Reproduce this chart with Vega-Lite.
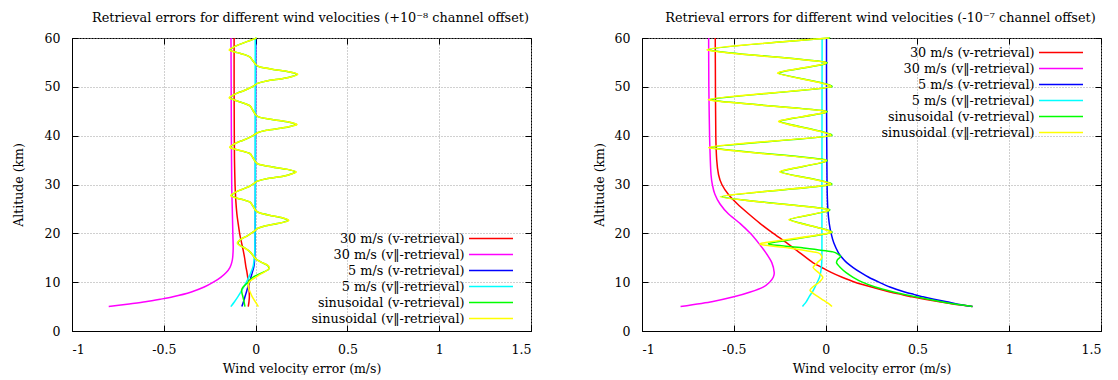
{
  "$schema": "https://vega.github.io/schema/vega-lite/v6.json",
  "background": "white",
  "padding": {"left": 12, "top": 11, "right": 5, "bottom": 0},
  "config": {
    "font": "DejaVu Serif",
    "view": {"stroke": "#000", "strokeWidth": 1},
    "axis": {
      "labelFont": "DejaVu Serif", "labelFontSize": 12.5, "labelColor": "#000",
      "titleFont": "DejaVu Serif", "titleFontSize": 12.5, "titleFontWeight": "normal", "titleColor": "#000",
      "gridColor": "#a0a0a0", "gridDash": [1, 2], "gridWidth": 1,
      "tickColor": "#000", "tickSize": -6, "tickWidth": 1,
      "domainColor": "#000", "domainWidth": 1
    },
    "axisX": {"labelPadding": 18.5},
    "axisY": {"labelPadding": 18},
    "title": {"font": "DejaVu Serif", "fontSize": 12.85, "fontWeight": "normal", "color": "#000", "offset": 7, "dx": 9},
    "legend": {
      "title": null, "orient": "none", "symbolType": "M-4,0H4", "symbolSize": 121, "symbolStrokeWidth": 1.5,
      "symbolOffset": 15.5, "labelAlign": "right", "labelOffset": -33, "labelFont": "DejaVu Serif",
      "labelFontSize": 12.8, "labelColor": "#000", "labelLimit": 400, "rowPadding": 2, "padding": 0
    }
  },
  "datasets": {
    "left": [
      {"series": "30 m/s (v-retrieval)", "alt": 5, "err": -0.04},
      {"series": "30 m/s (v-retrieval)", "alt": 6, "err": -0.036},
      {"series": "30 m/s (v-retrieval)", "alt": 7, "err": -0.034},
      {"series": "30 m/s (v-retrieval)", "alt": 8, "err": -0.035},
      {"series": "30 m/s (v-retrieval)", "alt": 9, "err": -0.037},
      {"series": "30 m/s (v-retrieval)", "alt": 10.5, "err": -0.041},
      {"series": "30 m/s (v-retrieval)", "alt": 12, "err": -0.047},
      {"series": "30 m/s (v-retrieval)", "alt": 13.2, "err": -0.053},
      {"series": "30 m/s (v-retrieval)", "alt": 15, "err": -0.06},
      {"series": "30 m/s (v-retrieval)", "alt": 16.6, "err": -0.068},
      {"series": "30 m/s (v-retrieval)", "alt": 18, "err": -0.076},
      {"series": "30 m/s (v-retrieval)", "alt": 20, "err": -0.087},
      {"series": "30 m/s (v-retrieval)", "alt": 22, "err": -0.095},
      {"series": "30 m/s (v-retrieval)", "alt": 24, "err": -0.102},
      {"series": "30 m/s (v-retrieval)", "alt": 26.8, "err": -0.108},
      {"series": "30 m/s (v-retrieval)", "alt": 30, "err": -0.112},
      {"series": "30 m/s (v-retrieval)", "alt": 35, "err": -0.115},
      {"series": "30 m/s (v-retrieval)", "alt": 40, "err": -0.116},
      {"series": "30 m/s (v-retrieval)", "alt": 50, "err": -0.117},
      {"series": "30 m/s (v-retrieval)", "alt": 60, "err": -0.117},
      {"series": "30 m/s (v‖-retrieval)", "alt": 5, "err": -0.8},
      {"series": "30 m/s (v‖-retrieval)", "alt": 5.5, "err": -0.7},
      {"series": "30 m/s (v‖-retrieval)", "alt": 6, "err": -0.6},
      {"series": "30 m/s (v‖-retrieval)", "alt": 6.5, "err": -0.52},
      {"series": "30 m/s (v‖-retrieval)", "alt": 7, "err": -0.45},
      {"series": "30 m/s (v‖-retrieval)", "alt": 8, "err": -0.35},
      {"series": "30 m/s (v‖-retrieval)", "alt": 9, "err": -0.28},
      {"series": "30 m/s (v‖-retrieval)", "alt": 10, "err": -0.23},
      {"series": "30 m/s (v‖-retrieval)", "alt": 11, "err": -0.19},
      {"series": "30 m/s (v‖-retrieval)", "alt": 12, "err": -0.16},
      {"series": "30 m/s (v‖-retrieval)", "alt": 13, "err": -0.14},
      {"series": "30 m/s (v‖-retrieval)", "alt": 14, "err": -0.13},
      {"series": "30 m/s (v‖-retrieval)", "alt": 15, "err": -0.125},
      {"series": "30 m/s (v‖-retrieval)", "alt": 17, "err": -0.122},
      {"series": "30 m/s (v‖-retrieval)", "alt": 20, "err": -0.124},
      {"series": "30 m/s (v‖-retrieval)", "alt": 25, "err": -0.127},
      {"series": "30 m/s (v‖-retrieval)", "alt": 30, "err": -0.13},
      {"series": "30 m/s (v‖-retrieval)", "alt": 40, "err": -0.132},
      {"series": "30 m/s (v‖-retrieval)", "alt": 50, "err": -0.133},
      {"series": "30 m/s (v‖-retrieval)", "alt": 60, "err": -0.134},
      {"series": "5 m/s (v-retrieval)", "alt": 5, "err": -0.075},
      {"series": "5 m/s (v-retrieval)", "alt": 6, "err": -0.066},
      {"series": "5 m/s (v-retrieval)", "alt": 7, "err": -0.058},
      {"series": "5 m/s (v-retrieval)", "alt": 8, "err": -0.05},
      {"series": "5 m/s (v-retrieval)", "alt": 9, "err": -0.042},
      {"series": "5 m/s (v-retrieval)", "alt": 10, "err": -0.033},
      {"series": "5 m/s (v-retrieval)", "alt": 12, "err": -0.018},
      {"series": "5 m/s (v-retrieval)", "alt": 13.5, "err": -0.008},
      {"series": "5 m/s (v-retrieval)", "alt": 16, "err": -0.004},
      {"series": "5 m/s (v-retrieval)", "alt": 20, "err": -0.002},
      {"series": "5 m/s (v-retrieval)", "alt": 30, "err": -0.001},
      {"series": "5 m/s (v-retrieval)", "alt": 45, "err": 0.0},
      {"series": "5 m/s (v-retrieval)", "alt": 60, "err": 0.001},
      {"series": "5 m/s (v‖-retrieval)", "alt": 5, "err": -0.135},
      {"series": "5 m/s (v‖-retrieval)", "alt": 6, "err": -0.115},
      {"series": "5 m/s (v‖-retrieval)", "alt": 7, "err": -0.097},
      {"series": "5 m/s (v‖-retrieval)", "alt": 8, "err": -0.08},
      {"series": "5 m/s (v‖-retrieval)", "alt": 9, "err": -0.065},
      {"series": "5 m/s (v‖-retrieval)", "alt": 10, "err": -0.05},
      {"series": "5 m/s (v‖-retrieval)", "alt": 12, "err": -0.025},
      {"series": "5 m/s (v‖-retrieval)", "alt": 13.5, "err": -0.012},
      {"series": "5 m/s (v‖-retrieval)", "alt": 16, "err": -0.005},
      {"series": "5 m/s (v‖-retrieval)", "alt": 20, "err": -0.003},
      {"series": "5 m/s (v‖-retrieval)", "alt": 30, "err": -0.002},
      {"series": "5 m/s (v‖-retrieval)", "alt": 60, "err": -0.002},
      {"series": "sinusoidal (v-retrieval)", "alt": 5.0, "err": -0.058},
      {"series": "sinusoidal (v-retrieval)", "alt": 6.0, "err": -0.063},
      {"series": "sinusoidal (v-retrieval)", "alt": 7.0, "err": -0.069},
      {"series": "sinusoidal (v-retrieval)", "alt": 7.7, "err": -0.074},
      {"series": "sinusoidal (v-retrieval)", "alt": 8.4, "err": -0.076},
      {"series": "sinusoidal (v-retrieval)", "alt": 9.0, "err": -0.068},
      {"series": "sinusoidal (v-retrieval)", "alt": 9.5, "err": -0.055},
      {"series": "sinusoidal (v-retrieval)", "alt": 10.0, "err": -0.04},
      {"series": "sinusoidal (v-retrieval)", "alt": 10.5, "err": -0.03},
      {"series": "sinusoidal (v-retrieval)", "alt": 11.0, "err": -0.015},
      {"series": "sinusoidal (v-retrieval)", "alt": 11.5, "err": 0.01},
      {"series": "sinusoidal (v-retrieval)", "alt": 12.0, "err": 0.04},
      {"series": "sinusoidal (v-retrieval)", "alt": 12.6, "err": 0.07},
      {"series": "sinusoidal (v-retrieval)", "alt": 13.0, "err": 0.072},
      {"series": "sinusoidal (v-retrieval)", "alt": 13.5, "err": 0.063},
      {"series": "sinusoidal (v-retrieval)", "alt": 14.0, "err": 0.035},
      {"series": "sinusoidal (v-retrieval)", "alt": 14.5, "err": 0.01},
      {"series": "sinusoidal (v-retrieval)", "alt": 15.0, "err": -0.005},
      {"series": "sinusoidal (v-retrieval)", "alt": 15.5, "err": -0.015},
      {"series": "sinusoidal (v-retrieval)", "alt": 16.0, "err": -0.025},
      {"series": "sinusoidal (v-retrieval)", "alt": 16.5, "err": -0.04},
      {"series": "sinusoidal (v-retrieval)", "alt": 17.0, "err": -0.06},
      {"series": "sinusoidal (v-retrieval)", "alt": 17.5, "err": -0.083},
      {"series": "sinusoidal (v-retrieval)", "alt": 18.0, "err": -0.097},
      {"series": "sinusoidal (v-retrieval)", "alt": 18.5, "err": -0.088},
      {"series": "sinusoidal (v-retrieval)", "alt": 19.0, "err": -0.07},
      {"series": "sinusoidal (v-retrieval)", "alt": 19.5, "err": -0.045},
      {"series": "sinusoidal (v-retrieval)", "alt": 20.0, "err": -0.025},
      {"series": "sinusoidal (v-retrieval)", "alt": 20.5, "err": -0.005},
      {"series": "sinusoidal (v-retrieval)", "alt": 21.0, "err": 0.01},
      {"series": "sinusoidal (v-retrieval)", "alt": 21.5, "err": 0.05},
      {"series": "sinusoidal (v-retrieval)", "alt": 22.0, "err": 0.12},
      {"series": "sinusoidal (v-retrieval)", "alt": 22.4, "err": 0.162},
      {"series": "sinusoidal (v-retrieval)", "alt": 22.7, "err": 0.177},
      {"series": "sinusoidal (v-retrieval)", "alt": 23.2, "err": 0.143},
      {"series": "sinusoidal (v-retrieval)", "alt": 23.7, "err": 0.075},
      {"series": "sinusoidal (v-retrieval)", "alt": 24.2, "err": 0.02},
      {"series": "sinusoidal (v-retrieval)", "alt": 24.7, "err": 0.0},
      {"series": "sinusoidal (v-retrieval)", "alt": 25.3, "err": -0.01},
      {"series": "sinusoidal (v-retrieval)", "alt": 25.9, "err": -0.02},
      {"series": "sinusoidal (v-retrieval)", "alt": 26.4, "err": -0.03},
      {"series": "sinusoidal (v-retrieval)", "alt": 26.8, "err": -0.06},
      {"series": "sinusoidal (v-retrieval)", "alt": 27.2, "err": -0.1},
      {"series": "sinusoidal (v-retrieval)", "alt": 27.7, "err": -0.132},
      {"series": "sinusoidal (v-retrieval)", "alt": 28.2, "err": -0.118},
      {"series": "sinusoidal (v-retrieval)", "alt": 28.7, "err": -0.095},
      {"series": "sinusoidal (v-retrieval)", "alt": 29.2, "err": -0.06},
      {"series": "sinusoidal (v-retrieval)", "alt": 29.7, "err": -0.03},
      {"series": "sinusoidal (v-retrieval)", "alt": 30.2, "err": -0.01},
      {"series": "sinusoidal (v-retrieval)", "alt": 30.7, "err": 0.01},
      {"series": "sinusoidal (v-retrieval)", "alt": 31.2, "err": 0.06},
      {"series": "sinusoidal (v-retrieval)", "alt": 31.7, "err": 0.15},
      {"series": "sinusoidal (v-retrieval)", "alt": 32.2, "err": 0.198},
      {"series": "sinusoidal (v-retrieval)", "alt": 32.6, "err": 0.217},
      {"series": "sinusoidal (v-retrieval)", "alt": 33.1, "err": 0.173},
      {"series": "sinusoidal (v-retrieval)", "alt": 33.6, "err": 0.09},
      {"series": "sinusoidal (v-retrieval)", "alt": 34.1, "err": 0.02},
      {"series": "sinusoidal (v-retrieval)", "alt": 34.6, "err": 0.0},
      {"series": "sinusoidal (v-retrieval)", "alt": 35.2, "err": -0.01},
      {"series": "sinusoidal (v-retrieval)", "alt": 35.8, "err": -0.02},
      {"series": "sinusoidal (v-retrieval)", "alt": 36.3, "err": -0.03},
      {"series": "sinusoidal (v-retrieval)", "alt": 36.7, "err": -0.06},
      {"series": "sinusoidal (v-retrieval)", "alt": 37.1, "err": -0.1},
      {"series": "sinusoidal (v-retrieval)", "alt": 37.6, "err": -0.137},
      {"series": "sinusoidal (v-retrieval)", "alt": 38.1, "err": -0.123},
      {"series": "sinusoidal (v-retrieval)", "alt": 38.6, "err": -0.1},
      {"series": "sinusoidal (v-retrieval)", "alt": 39.1, "err": -0.065},
      {"series": "sinusoidal (v-retrieval)", "alt": 39.6, "err": -0.035},
      {"series": "sinusoidal (v-retrieval)", "alt": 40.1, "err": -0.01},
      {"series": "sinusoidal (v-retrieval)", "alt": 40.6, "err": 0.01},
      {"series": "sinusoidal (v-retrieval)", "alt": 41.1, "err": 0.06},
      {"series": "sinusoidal (v-retrieval)", "alt": 41.6, "err": 0.15},
      {"series": "sinusoidal (v-retrieval)", "alt": 42.0, "err": 0.198},
      {"series": "sinusoidal (v-retrieval)", "alt": 42.3, "err": 0.222},
      {"series": "sinusoidal (v-retrieval)", "alt": 42.8, "err": 0.178},
      {"series": "sinusoidal (v-retrieval)", "alt": 43.3, "err": 0.09},
      {"series": "sinusoidal (v-retrieval)", "alt": 43.8, "err": 0.02},
      {"series": "sinusoidal (v-retrieval)", "alt": 44.3, "err": 0.0},
      {"series": "sinusoidal (v-retrieval)", "alt": 44.9, "err": -0.01},
      {"series": "sinusoidal (v-retrieval)", "alt": 45.5, "err": -0.02},
      {"series": "sinusoidal (v-retrieval)", "alt": 46.1, "err": -0.03},
      {"series": "sinusoidal (v-retrieval)", "alt": 46.6, "err": -0.06},
      {"series": "sinusoidal (v-retrieval)", "alt": 47.1, "err": -0.1},
      {"series": "sinusoidal (v-retrieval)", "alt": 47.7, "err": -0.14},
      {"series": "sinusoidal (v-retrieval)", "alt": 48.2, "err": -0.126},
      {"series": "sinusoidal (v-retrieval)", "alt": 48.7, "err": -0.1},
      {"series": "sinusoidal (v-retrieval)", "alt": 49.2, "err": -0.065},
      {"series": "sinusoidal (v-retrieval)", "alt": 49.7, "err": -0.035},
      {"series": "sinusoidal (v-retrieval)", "alt": 50.2, "err": -0.01},
      {"series": "sinusoidal (v-retrieval)", "alt": 50.7, "err": 0.01},
      {"series": "sinusoidal (v-retrieval)", "alt": 51.2, "err": 0.06},
      {"series": "sinusoidal (v-retrieval)", "alt": 51.7, "err": 0.15},
      {"series": "sinusoidal (v-retrieval)", "alt": 52.1, "err": 0.198},
      {"series": "sinusoidal (v-retrieval)", "alt": 52.6, "err": 0.226},
      {"series": "sinusoidal (v-retrieval)", "alt": 53.1, "err": 0.178},
      {"series": "sinusoidal (v-retrieval)", "alt": 53.6, "err": 0.09},
      {"series": "sinusoidal (v-retrieval)", "alt": 54.1, "err": 0.02},
      {"series": "sinusoidal (v-retrieval)", "alt": 54.6, "err": 0.0},
      {"series": "sinusoidal (v-retrieval)", "alt": 55.1, "err": -0.01},
      {"series": "sinusoidal (v-retrieval)", "alt": 55.6, "err": -0.02},
      {"series": "sinusoidal (v-retrieval)", "alt": 56.1, "err": -0.03},
      {"series": "sinusoidal (v-retrieval)", "alt": 56.6, "err": -0.06},
      {"series": "sinusoidal (v-retrieval)", "alt": 57.0, "err": -0.1},
      {"series": "sinusoidal (v-retrieval)", "alt": 57.5, "err": -0.14},
      {"series": "sinusoidal (v-retrieval)", "alt": 58.0, "err": -0.126},
      {"series": "sinusoidal (v-retrieval)", "alt": 58.5, "err": -0.1},
      {"series": "sinusoidal (v-retrieval)", "alt": 59.0, "err": -0.065},
      {"series": "sinusoidal (v-retrieval)", "alt": 59.5, "err": -0.03},
      {"series": "sinusoidal (v-retrieval)", "alt": 60.0, "err": 0.005},
      {"series": "sinusoidal (v‖-retrieval)", "alt": 5.0, "err": 0.015},
      {"series": "sinusoidal (v‖-retrieval)", "alt": 5.5, "err": 0.007},
      {"series": "sinusoidal (v‖-retrieval)", "alt": 6.0, "err": -0.002},
      {"series": "sinusoidal (v‖-retrieval)", "alt": 7.0, "err": -0.018},
      {"series": "sinusoidal (v‖-retrieval)", "alt": 8.0, "err": -0.03},
      {"series": "sinusoidal (v‖-retrieval)", "alt": 9.0, "err": -0.04},
      {"series": "sinusoidal (v‖-retrieval)", "alt": 10.0, "err": -0.035},
      {"series": "sinusoidal (v‖-retrieval)", "alt": 10.5, "err": -0.02},
      {"series": "sinusoidal (v‖-retrieval)", "alt": 11.0, "err": 0.0},
      {"series": "sinusoidal (v‖-retrieval)", "alt": 11.5, "err": 0.02},
      {"series": "sinusoidal (v‖-retrieval)", "alt": 12.0, "err": 0.045},
      {"series": "sinusoidal (v‖-retrieval)", "alt": 12.5, "err": 0.065},
      {"series": "sinusoidal (v‖-retrieval)", "alt": 13.0, "err": 0.075},
      {"series": "sinusoidal (v‖-retrieval)", "alt": 13.5, "err": 0.065},
      {"series": "sinusoidal (v‖-retrieval)", "alt": 14.0, "err": 0.035},
      {"series": "sinusoidal (v‖-retrieval)", "alt": 14.5, "err": 0.01},
      {"series": "sinusoidal (v‖-retrieval)", "alt": 15.0, "err": -0.005},
      {"series": "sinusoidal (v‖-retrieval)", "alt": 15.5, "err": -0.015},
      {"series": "sinusoidal (v‖-retrieval)", "alt": 16.0, "err": -0.025},
      {"series": "sinusoidal (v‖-retrieval)", "alt": 16.5, "err": -0.04},
      {"series": "sinusoidal (v‖-retrieval)", "alt": 17.0, "err": -0.06},
      {"series": "sinusoidal (v‖-retrieval)", "alt": 17.5, "err": -0.085},
      {"series": "sinusoidal (v‖-retrieval)", "alt": 18.0, "err": -0.1},
      {"series": "sinusoidal (v‖-retrieval)", "alt": 18.5, "err": -0.09},
      {"series": "sinusoidal (v‖-retrieval)", "alt": 19.0, "err": -0.07},
      {"series": "sinusoidal (v‖-retrieval)", "alt": 19.5, "err": -0.045},
      {"series": "sinusoidal (v‖-retrieval)", "alt": 20.0, "err": -0.025},
      {"series": "sinusoidal (v‖-retrieval)", "alt": 20.5, "err": -0.005},
      {"series": "sinusoidal (v‖-retrieval)", "alt": 21.0, "err": 0.01},
      {"series": "sinusoidal (v‖-retrieval)", "alt": 21.5, "err": 0.05},
      {"series": "sinusoidal (v‖-retrieval)", "alt": 22.0, "err": 0.12},
      {"series": "sinusoidal (v‖-retrieval)", "alt": 22.4, "err": 0.165},
      {"series": "sinusoidal (v‖-retrieval)", "alt": 22.7, "err": 0.18},
      {"series": "sinusoidal (v‖-retrieval)", "alt": 23.2, "err": 0.145},
      {"series": "sinusoidal (v‖-retrieval)", "alt": 23.7, "err": 0.075},
      {"series": "sinusoidal (v‖-retrieval)", "alt": 24.2, "err": 0.02},
      {"series": "sinusoidal (v‖-retrieval)", "alt": 24.7, "err": 0.0},
      {"series": "sinusoidal (v‖-retrieval)", "alt": 25.3, "err": -0.01},
      {"series": "sinusoidal (v‖-retrieval)", "alt": 25.9, "err": -0.02},
      {"series": "sinusoidal (v‖-retrieval)", "alt": 26.4, "err": -0.03},
      {"series": "sinusoidal (v‖-retrieval)", "alt": 26.8, "err": -0.06},
      {"series": "sinusoidal (v‖-retrieval)", "alt": 27.2, "err": -0.1},
      {"series": "sinusoidal (v‖-retrieval)", "alt": 27.7, "err": -0.135},
      {"series": "sinusoidal (v‖-retrieval)", "alt": 28.2, "err": -0.12},
      {"series": "sinusoidal (v‖-retrieval)", "alt": 28.7, "err": -0.095},
      {"series": "sinusoidal (v‖-retrieval)", "alt": 29.2, "err": -0.06},
      {"series": "sinusoidal (v‖-retrieval)", "alt": 29.7, "err": -0.03},
      {"series": "sinusoidal (v‖-retrieval)", "alt": 30.2, "err": -0.01},
      {"series": "sinusoidal (v‖-retrieval)", "alt": 30.7, "err": 0.01},
      {"series": "sinusoidal (v‖-retrieval)", "alt": 31.2, "err": 0.06},
      {"series": "sinusoidal (v‖-retrieval)", "alt": 31.7, "err": 0.15},
      {"series": "sinusoidal (v‖-retrieval)", "alt": 32.2, "err": 0.2},
      {"series": "sinusoidal (v‖-retrieval)", "alt": 32.6, "err": 0.22},
      {"series": "sinusoidal (v‖-retrieval)", "alt": 33.1, "err": 0.175},
      {"series": "sinusoidal (v‖-retrieval)", "alt": 33.6, "err": 0.09},
      {"series": "sinusoidal (v‖-retrieval)", "alt": 34.1, "err": 0.02},
      {"series": "sinusoidal (v‖-retrieval)", "alt": 34.6, "err": 0.0},
      {"series": "sinusoidal (v‖-retrieval)", "alt": 35.2, "err": -0.01},
      {"series": "sinusoidal (v‖-retrieval)", "alt": 35.8, "err": -0.02},
      {"series": "sinusoidal (v‖-retrieval)", "alt": 36.3, "err": -0.03},
      {"series": "sinusoidal (v‖-retrieval)", "alt": 36.7, "err": -0.06},
      {"series": "sinusoidal (v‖-retrieval)", "alt": 37.1, "err": -0.1},
      {"series": "sinusoidal (v‖-retrieval)", "alt": 37.6, "err": -0.14},
      {"series": "sinusoidal (v‖-retrieval)", "alt": 38.1, "err": -0.125},
      {"series": "sinusoidal (v‖-retrieval)", "alt": 38.6, "err": -0.1},
      {"series": "sinusoidal (v‖-retrieval)", "alt": 39.1, "err": -0.065},
      {"series": "sinusoidal (v‖-retrieval)", "alt": 39.6, "err": -0.035},
      {"series": "sinusoidal (v‖-retrieval)", "alt": 40.1, "err": -0.01},
      {"series": "sinusoidal (v‖-retrieval)", "alt": 40.6, "err": 0.01},
      {"series": "sinusoidal (v‖-retrieval)", "alt": 41.1, "err": 0.06},
      {"series": "sinusoidal (v‖-retrieval)", "alt": 41.6, "err": 0.15},
      {"series": "sinusoidal (v‖-retrieval)", "alt": 42.0, "err": 0.2},
      {"series": "sinusoidal (v‖-retrieval)", "alt": 42.3, "err": 0.225},
      {"series": "sinusoidal (v‖-retrieval)", "alt": 42.8, "err": 0.18},
      {"series": "sinusoidal (v‖-retrieval)", "alt": 43.3, "err": 0.09},
      {"series": "sinusoidal (v‖-retrieval)", "alt": 43.8, "err": 0.02},
      {"series": "sinusoidal (v‖-retrieval)", "alt": 44.3, "err": 0.0},
      {"series": "sinusoidal (v‖-retrieval)", "alt": 44.9, "err": -0.01},
      {"series": "sinusoidal (v‖-retrieval)", "alt": 45.5, "err": -0.02},
      {"series": "sinusoidal (v‖-retrieval)", "alt": 46.1, "err": -0.03},
      {"series": "sinusoidal (v‖-retrieval)", "alt": 46.6, "err": -0.06},
      {"series": "sinusoidal (v‖-retrieval)", "alt": 47.1, "err": -0.1},
      {"series": "sinusoidal (v‖-retrieval)", "alt": 47.7, "err": -0.143},
      {"series": "sinusoidal (v‖-retrieval)", "alt": 48.2, "err": -0.128},
      {"series": "sinusoidal (v‖-retrieval)", "alt": 48.7, "err": -0.1},
      {"series": "sinusoidal (v‖-retrieval)", "alt": 49.2, "err": -0.065},
      {"series": "sinusoidal (v‖-retrieval)", "alt": 49.7, "err": -0.035},
      {"series": "sinusoidal (v‖-retrieval)", "alt": 50.2, "err": -0.01},
      {"series": "sinusoidal (v‖-retrieval)", "alt": 50.7, "err": 0.01},
      {"series": "sinusoidal (v‖-retrieval)", "alt": 51.2, "err": 0.06},
      {"series": "sinusoidal (v‖-retrieval)", "alt": 51.7, "err": 0.15},
      {"series": "sinusoidal (v‖-retrieval)", "alt": 52.1, "err": 0.2},
      {"series": "sinusoidal (v‖-retrieval)", "alt": 52.6, "err": 0.229},
      {"series": "sinusoidal (v‖-retrieval)", "alt": 53.1, "err": 0.18},
      {"series": "sinusoidal (v‖-retrieval)", "alt": 53.6, "err": 0.09},
      {"series": "sinusoidal (v‖-retrieval)", "alt": 54.1, "err": 0.02},
      {"series": "sinusoidal (v‖-retrieval)", "alt": 54.6, "err": 0.0},
      {"series": "sinusoidal (v‖-retrieval)", "alt": 55.1, "err": -0.01},
      {"series": "sinusoidal (v‖-retrieval)", "alt": 55.6, "err": -0.02},
      {"series": "sinusoidal (v‖-retrieval)", "alt": 56.1, "err": -0.03},
      {"series": "sinusoidal (v‖-retrieval)", "alt": 56.6, "err": -0.06},
      {"series": "sinusoidal (v‖-retrieval)", "alt": 57.0, "err": -0.1},
      {"series": "sinusoidal (v‖-retrieval)", "alt": 57.5, "err": -0.143},
      {"series": "sinusoidal (v‖-retrieval)", "alt": 58.0, "err": -0.128},
      {"series": "sinusoidal (v‖-retrieval)", "alt": 58.5, "err": -0.1},
      {"series": "sinusoidal (v‖-retrieval)", "alt": 59.0, "err": -0.065},
      {"series": "sinusoidal (v‖-retrieval)", "alt": 59.5, "err": -0.03},
      {"series": "sinusoidal (v‖-retrieval)", "alt": 60.0, "err": 0.005}
    ],
    "right": [
      {"series": "30 m/s (v-retrieval)", "alt": 5, "err": 0.8},
      {"series": "30 m/s (v-retrieval)", "alt": 5.5, "err": 0.7},
      {"series": "30 m/s (v-retrieval)", "alt": 6, "err": 0.62},
      {"series": "30 m/s (v-retrieval)", "alt": 6.5, "err": 0.54},
      {"series": "30 m/s (v-retrieval)", "alt": 7, "err": 0.47},
      {"series": "30 m/s (v-retrieval)", "alt": 7.5, "err": 0.41},
      {"series": "30 m/s (v-retrieval)", "alt": 8, "err": 0.35},
      {"series": "30 m/s (v-retrieval)", "alt": 9, "err": 0.25},
      {"series": "30 m/s (v-retrieval)", "alt": 10, "err": 0.16},
      {"series": "30 m/s (v-retrieval)", "alt": 11, "err": 0.09},
      {"series": "30 m/s (v-retrieval)", "alt": 12, "err": 0.03},
      {"series": "30 m/s (v-retrieval)", "alt": 13, "err": -0.02},
      {"series": "30 m/s (v-retrieval)", "alt": 14, "err": -0.07},
      {"series": "30 m/s (v-retrieval)", "alt": 16, "err": -0.14},
      {"series": "30 m/s (v-retrieval)", "alt": 18, "err": -0.21},
      {"series": "30 m/s (v-retrieval)", "alt": 20, "err": -0.285},
      {"series": "30 m/s (v-retrieval)", "alt": 22, "err": -0.356},
      {"series": "30 m/s (v-retrieval)", "alt": 24, "err": -0.42},
      {"series": "30 m/s (v-retrieval)", "alt": 26, "err": -0.48},
      {"series": "30 m/s (v-retrieval)", "alt": 28, "err": -0.53},
      {"series": "30 m/s (v-retrieval)", "alt": 30, "err": -0.565},
      {"series": "30 m/s (v-retrieval)", "alt": 32, "err": -0.583},
      {"series": "30 m/s (v-retrieval)", "alt": 35, "err": -0.593},
      {"series": "30 m/s (v-retrieval)", "alt": 40, "err": -0.598},
      {"series": "30 m/s (v-retrieval)", "alt": 50, "err": -0.6},
      {"series": "30 m/s (v-retrieval)", "alt": 60, "err": -0.601},
      {"series": "30 m/s (v‖-retrieval)", "alt": 5, "err": -0.79},
      {"series": "30 m/s (v‖-retrieval)", "alt": 6, "err": -0.62},
      {"series": "30 m/s (v‖-retrieval)", "alt": 7, "err": -0.5},
      {"series": "30 m/s (v‖-retrieval)", "alt": 8, "err": -0.41},
      {"series": "30 m/s (v‖-retrieval)", "alt": 9, "err": -0.34},
      {"series": "30 m/s (v‖-retrieval)", "alt": 10, "err": -0.305},
      {"series": "30 m/s (v‖-retrieval)", "alt": 11, "err": -0.285},
      {"series": "30 m/s (v‖-retrieval)", "alt": 12, "err": -0.28},
      {"series": "30 m/s (v‖-retrieval)", "alt": 14, "err": -0.293},
      {"series": "30 m/s (v‖-retrieval)", "alt": 16, "err": -0.325},
      {"series": "30 m/s (v‖-retrieval)", "alt": 18, "err": -0.365},
      {"series": "30 m/s (v‖-retrieval)", "alt": 20, "err": -0.41},
      {"series": "30 m/s (v‖-retrieval)", "alt": 22, "err": -0.465},
      {"series": "30 m/s (v‖-retrieval)", "alt": 24, "err": -0.53},
      {"series": "30 m/s (v‖-retrieval)", "alt": 26, "err": -0.575},
      {"series": "30 m/s (v‖-retrieval)", "alt": 28, "err": -0.603},
      {"series": "30 m/s (v‖-retrieval)", "alt": 30, "err": -0.617},
      {"series": "30 m/s (v‖-retrieval)", "alt": 32, "err": -0.624},
      {"series": "30 m/s (v‖-retrieval)", "alt": 35, "err": -0.628},
      {"series": "30 m/s (v‖-retrieval)", "alt": 40, "err": -0.632},
      {"series": "30 m/s (v‖-retrieval)", "alt": 50, "err": -0.636},
      {"series": "30 m/s (v‖-retrieval)", "alt": 60, "err": -0.637},
      {"series": "5 m/s (v-retrieval)", "alt": 5, "err": 0.8},
      {"series": "5 m/s (v-retrieval)", "alt": 5.5, "err": 0.72},
      {"series": "5 m/s (v-retrieval)", "alt": 6, "err": 0.66},
      {"series": "5 m/s (v-retrieval)", "alt": 6.5, "err": 0.59},
      {"series": "5 m/s (v-retrieval)", "alt": 7, "err": 0.53},
      {"series": "5 m/s (v-retrieval)", "alt": 7.5, "err": 0.48},
      {"series": "5 m/s (v-retrieval)", "alt": 8, "err": 0.43},
      {"series": "5 m/s (v-retrieval)", "alt": 9, "err": 0.35},
      {"series": "5 m/s (v-retrieval)", "alt": 10, "err": 0.29},
      {"series": "5 m/s (v-retrieval)", "alt": 11, "err": 0.235},
      {"series": "5 m/s (v-retrieval)", "alt": 12, "err": 0.19},
      {"series": "5 m/s (v-retrieval)", "alt": 13, "err": 0.15},
      {"series": "5 m/s (v-retrieval)", "alt": 14, "err": 0.115},
      {"series": "5 m/s (v-retrieval)", "alt": 15, "err": 0.09},
      {"series": "5 m/s (v-retrieval)", "alt": 16, "err": 0.07},
      {"series": "5 m/s (v-retrieval)", "alt": 18, "err": 0.045},
      {"series": "5 m/s (v-retrieval)", "alt": 20, "err": 0.03},
      {"series": "5 m/s (v-retrieval)", "alt": 22, "err": 0.02},
      {"series": "5 m/s (v-retrieval)", "alt": 25, "err": 0.012},
      {"series": "5 m/s (v-retrieval)", "alt": 30, "err": 0.008},
      {"series": "5 m/s (v-retrieval)", "alt": 40, "err": 0.006},
      {"series": "5 m/s (v-retrieval)", "alt": 50, "err": 0.005},
      {"series": "5 m/s (v-retrieval)", "alt": 60, "err": 0.005},
      {"series": "5 m/s (v‖-retrieval)", "alt": 5, "err": -0.126},
      {"series": "5 m/s (v‖-retrieval)", "alt": 6, "err": -0.105},
      {"series": "5 m/s (v‖-retrieval)", "alt": 7, "err": -0.09},
      {"series": "5 m/s (v‖-retrieval)", "alt": 8, "err": -0.072},
      {"series": "5 m/s (v‖-retrieval)", "alt": 9, "err": -0.058},
      {"series": "5 m/s (v‖-retrieval)", "alt": 10, "err": -0.045},
      {"series": "5 m/s (v‖-retrieval)", "alt": 11, "err": -0.033},
      {"series": "5 m/s (v‖-retrieval)", "alt": 12, "err": -0.027},
      {"series": "5 m/s (v‖-retrieval)", "alt": 13, "err": -0.023},
      {"series": "5 m/s (v‖-retrieval)", "alt": 14, "err": -0.021},
      {"series": "5 m/s (v‖-retrieval)", "alt": 16, "err": -0.02},
      {"series": "5 m/s (v‖-retrieval)", "alt": 30, "err": -0.02},
      {"series": "5 m/s (v‖-retrieval)", "alt": 60, "err": -0.019},
      {"series": "sinusoidal (v-retrieval)", "alt": 5.0, "err": 0.8},
      {"series": "sinusoidal (v-retrieval)", "alt": 5.5, "err": 0.71},
      {"series": "sinusoidal (v-retrieval)", "alt": 6.0, "err": 0.63},
      {"series": "sinusoidal (v-retrieval)", "alt": 7.0, "err": 0.49},
      {"series": "sinusoidal (v-retrieval)", "alt": 8.0, "err": 0.37},
      {"series": "sinusoidal (v-retrieval)", "alt": 9.0, "err": 0.27},
      {"series": "sinusoidal (v-retrieval)", "alt": 10.0, "err": 0.2},
      {"series": "sinusoidal (v-retrieval)", "alt": 11.0, "err": 0.15},
      {"series": "sinusoidal (v-retrieval)", "alt": 12.0, "err": 0.11},
      {"series": "sinusoidal (v-retrieval)", "alt": 13.0, "err": 0.08},
      {"series": "sinusoidal (v-retrieval)", "alt": 13.9, "err": 0.06},
      {"series": "sinusoidal (v-retrieval)", "alt": 14.6, "err": 0.065},
      {"series": "sinusoidal (v-retrieval)", "alt": 15.3, "err": 0.082},
      {"series": "sinusoidal (v-retrieval)", "alt": 16.2, "err": 0.04},
      {"series": "sinusoidal (v-retrieval)", "alt": 17.0, "err": -0.12},
      {"series": "sinusoidal (v-retrieval)", "alt": 17.9, "err": -0.31},
      {"series": "sinusoidal (v-retrieval)", "alt": 20.2, "err": 0.035},
      {"series": "sinusoidal (v-retrieval)", "alt": 22.8, "err": -0.196},
      {"series": "sinusoidal (v-retrieval)", "alt": 24.9, "err": 0.02},
      {"series": "sinusoidal (v-retrieval)", "alt": 27.5, "err": -0.565},
      {"series": "sinusoidal (v-retrieval)", "alt": 30.0, "err": 0.032},
      {"series": "sinusoidal (v-retrieval)", "alt": 32.6, "err": -0.245},
      {"series": "sinusoidal (v-retrieval)", "alt": 35.0, "err": 0.005},
      {"series": "sinusoidal (v-retrieval)", "alt": 37.6, "err": -0.625},
      {"series": "sinusoidal (v-retrieval)", "alt": 40.0, "err": 0.032},
      {"series": "sinusoidal (v-retrieval)", "alt": 42.9, "err": -0.25},
      {"series": "sinusoidal (v-retrieval)", "alt": 45.0, "err": 0.005},
      {"series": "sinusoidal (v-retrieval)", "alt": 47.4, "err": -0.63},
      {"series": "sinusoidal (v-retrieval)", "alt": 50.0, "err": 0.032},
      {"series": "sinusoidal (v-retrieval)", "alt": 52.8, "err": -0.257},
      {"series": "sinusoidal (v-retrieval)", "alt": 55.0, "err": 0.005},
      {"series": "sinusoidal (v-retrieval)", "alt": 57.6, "err": -0.638},
      {"series": "sinusoidal (v-retrieval)", "alt": 60.0, "err": 0.025},
      {"series": "sinusoidal (v‖-retrieval)", "alt": 5.0, "err": 0.035},
      {"series": "sinusoidal (v‖-retrieval)", "alt": 5.5, "err": 0.02},
      {"series": "sinusoidal (v‖-retrieval)", "alt": 6.5, "err": -0.02},
      {"series": "sinusoidal (v‖-retrieval)", "alt": 7.5, "err": -0.06},
      {"series": "sinusoidal (v‖-retrieval)", "alt": 8.3, "err": -0.085},
      {"series": "sinusoidal (v‖-retrieval)", "alt": 9.0, "err": -0.07},
      {"series": "sinusoidal (v‖-retrieval)", "alt": 10.0, "err": -0.035},
      {"series": "sinusoidal (v‖-retrieval)", "alt": 11.0, "err": -0.015},
      {"series": "sinusoidal (v‖-retrieval)", "alt": 12.0, "err": -0.04},
      {"series": "sinusoidal (v‖-retrieval)", "alt": 13.0, "err": -0.068},
      {"series": "sinusoidal (v‖-retrieval)", "alt": 14.0, "err": -0.045},
      {"series": "sinusoidal (v‖-retrieval)", "alt": 15.0, "err": -0.02},
      {"series": "sinusoidal (v‖-retrieval)", "alt": 16.0, "err": -0.04},
      {"series": "sinusoidal (v‖-retrieval)", "alt": 17.0, "err": -0.2},
      {"series": "sinusoidal (v‖-retrieval)", "alt": 17.9, "err": -0.356},
      {"series": "sinusoidal (v‖-retrieval)", "alt": 20.2, "err": 0.03},
      {"series": "sinusoidal (v‖-retrieval)", "alt": 22.8, "err": -0.2},
      {"series": "sinusoidal (v‖-retrieval)", "alt": 24.9, "err": 0.015},
      {"series": "sinusoidal (v‖-retrieval)", "alt": 27.5, "err": -0.574},
      {"series": "sinusoidal (v‖-retrieval)", "alt": 30.0, "err": 0.027},
      {"series": "sinusoidal (v‖-retrieval)", "alt": 32.6, "err": -0.25},
      {"series": "sinusoidal (v‖-retrieval)", "alt": 35.0, "err": 0.0},
      {"series": "sinusoidal (v‖-retrieval)", "alt": 37.6, "err": -0.637},
      {"series": "sinusoidal (v‖-retrieval)", "alt": 40.0, "err": 0.027},
      {"series": "sinusoidal (v‖-retrieval)", "alt": 42.9, "err": -0.256},
      {"series": "sinusoidal (v‖-retrieval)", "alt": 45.0, "err": 0.0},
      {"series": "sinusoidal (v‖-retrieval)", "alt": 47.4, "err": -0.64},
      {"series": "sinusoidal (v‖-retrieval)", "alt": 50.0, "err": 0.027},
      {"series": "sinusoidal (v‖-retrieval)", "alt": 52.8, "err": -0.262},
      {"series": "sinusoidal (v‖-retrieval)", "alt": 55.0, "err": 0.0},
      {"series": "sinusoidal (v‖-retrieval)", "alt": 57.6, "err": -0.646},
      {"series": "sinusoidal (v‖-retrieval)", "alt": 60.0, "err": 0.02}
    ]
  },
  "resolve": {"scale": {"color": "independent"}, "legend": {"color": "independent"}},
  "spacing": 60,
  "hconcat": [
    {
      "width": 459, "height": 293,
      "title": "Retrieval errors for different wind velocities (+10⁻⁸ channel offset)",
      "data": {"name": "left"},
      "resolve": {"axis": {"x": "independent", "y": "independent"}},
      "layer": [
        {
          "mark": {"type": "line", "strokeWidth": 1.5, "interpolate": "cardinal", "tension": 0.2},
          "encoding": {
            "x": {"field": "err", "type": "quantitative", "scale": {"domain": [-1, 1.5], "nice": false, "zero": false},
                  "axis": {"values": [-1, -0.5, 0, 0.5, 1, 1.5], "format": "~g", "labelExpr": "replace(datum.label, '−', '-')", "title": "Wind velocity error (m/s)", "titlePadding": 6}},
            "y": {"field": "alt", "type": "quantitative", "scale": {"domain": [0, 60], "nice": false, "zero": false},
                  "axis": {"values": [0, 10, 20, 30, 40, 50, 60], "title": "Altitude (km)", "titlePadding": 18.5}},
            "color": {"field": "series", "type": "nominal",
                      "scale": {"domain": ["30 m/s (v-retrieval)", "30 m/s (v‖-retrieval)", "5 m/s (v-retrieval)", "5 m/s (v‖-retrieval)", "sinusoidal (v-retrieval)", "sinusoidal (v‖-retrieval)"],
                                "range": ["#ff0000", "#ff00ff", "#0000ff", "#00ffff", "#00ff00", "#ffff00"]},
                      "legend": {"legendX": 397, "legendY": 194}},
            "order": {"field": "alt", "type": "quantitative"}
          }
        },
        {
          "mark": {"type": "point", "opacity": 0},
          "encoding": {
            "x": {"field": "err", "type": "quantitative", "axis": {"orient": "top", "values": [-1, -0.5, 0, 0.5, 1, 1.5], "labels": false, "grid": false, "domain": false, "title": null}},
            "y": {"field": "alt", "type": "quantitative", "axis": {"orient": "right", "values": [0, 10, 20, 30, 40, 50, 60], "labels": false, "grid": false, "domain": false, "title": null}}
          }
        }
      ]
    },
    {
      "width": 459, "height": 293,
      "title": "Retrieval errors for different wind velocities (-10⁻⁷ channel offset)",
      "data": {"name": "right"},
      "resolve": {"axis": {"x": "independent", "y": "independent"}},
      "layer": [
        {
          "mark": {"type": "line", "strokeWidth": 1.5, "interpolate": "cardinal", "tension": 0.45},
          "encoding": {
            "x": {"field": "err", "type": "quantitative", "scale": {"domain": [-1, 1.5], "nice": false, "zero": false},
                  "axis": {"values": [-1, -0.5, 0, 0.5, 1, 1.5], "format": "~g", "labelExpr": "replace(datum.label, '−', '-')", "title": "Wind velocity error (m/s)", "titlePadding": 6}},
            "y": {"field": "alt", "type": "quantitative", "scale": {"domain": [0, 60], "nice": false, "zero": false},
                  "axis": {"values": [0, 10, 20, 30, 40, 50, 60], "title": "Altitude (km)", "titlePadding": 8}},
            "color": {"field": "series", "type": "nominal",
                      "scale": {"domain": ["30 m/s (v-retrieval)", "30 m/s (v‖-retrieval)", "5 m/s (v-retrieval)", "5 m/s (v‖-retrieval)", "sinusoidal (v-retrieval)", "sinusoidal (v‖-retrieval)"],
                                "range": ["#ff0000", "#ff00ff", "#0000ff", "#00ffff", "#00ff00", "#ffff00"]},
                      "legend": {"legendX": 397, "legendY": 8}},
            "order": {"field": "alt", "type": "quantitative"}
          }
        },
        {
          "mark": {"type": "point", "opacity": 0},
          "encoding": {
            "x": {"field": "err", "type": "quantitative", "axis": {"orient": "top", "values": [-1, -0.5, 0, 0.5, 1, 1.5], "labels": false, "grid": false, "domain": false, "title": null}},
            "y": {"field": "alt", "type": "quantitative", "axis": {"orient": "right", "values": [0, 10, 20, 30, 40, 50, 60], "labels": false, "grid": false, "domain": false, "title": null}}
          }
        }
      ]
    }
  ]
}
